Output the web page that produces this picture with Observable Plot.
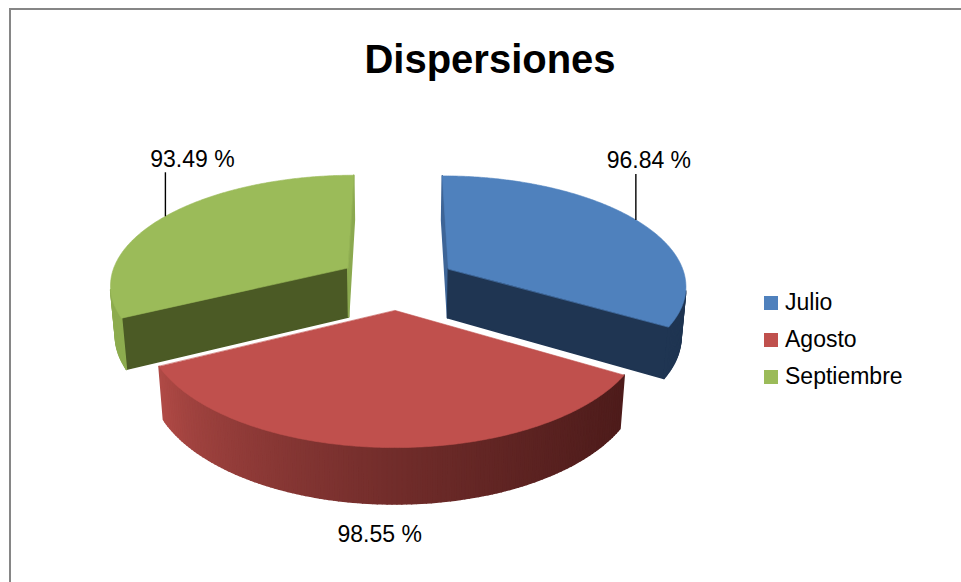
<!DOCTYPE html>
<html>
<head>
<meta charset="utf-8">
<script src="https://cdn.jsdelivr.net/npm/d3@7"></script>
<script src="https://cdn.jsdelivr.net/npm/@observablehq/plot@0.6"></script>
<style>
  html, body { margin: 0; padding: 0; background: #fff; overflow: hidden; }
  #wrap { position: relative; width: 961px; height: 582px; font-family: "Liberation Sans", Arial, sans-serif; color: #000; }
  #frame { position: absolute; left: 9px; top: 8px; width: 1000px; height: 700px; border-left: 2px solid #868686; border-top: 2px solid #868686; }
  #title { position: absolute; left: 0; top: 39px; width: 980px; text-align: center; font-weight: bold; font-size: 40px; line-height: 40px; }
  #chart { position: absolute; left: 0; top: 0; }
  #legend { position: absolute; left: 764px; top: 284px; }
  .item { display: flex; align-items: center; height: 37px; font-size: 23px; white-space: nowrap; }
  .sw { width: 14px; height: 14px; margin-right: 7px; flex: none; }
</style>
</head>
<body>
<div id="wrap">
  <div id="frame"></div>
  <div id="chart"></div>
  <div id="title">Dispersiones</div>
  <div id="legend"></div>
</div>
<script>
// ---------- data ----------
const categories = ["Julio", "Agosto", "Septiembre"];
const values = [96.84, 98.55, 93.49];
const valueLabels = ["96.84 %", "98.55 %", "93.49 %"];
const colors = ["#4F81BD", "#C0504D", "#9BBB59"];

// ---------- styling / view ----------
const W = 961, H = 582;
const VIEW = { cx: 397, cy: 281.7, F: 1525, D: 6.4, sinTilt: 0.459, thick: 0.238, explode: 0.25 };
const SIDE = {
  Julio:      { start: "#3E6597", end: "#1F3552", rim: () => "#1F3552" },
  Agosto:     { start: "#7A2C2A", end: "#7A2C2A", rim: t => d3.interpolateRgb("#4E1C1B", "#B04A46")(Math.pow(t, 1.4)) },
  Septiembre: { start: "#4B5A25", end: "#8BA94F", rim: () => "#8DAC4F" }
};
const LABEL = {
  Julio:      { where: "top", lead: 46, dx: 13, dy: -13 },
  Agosto:     { where: "bottom", lead: 0, dx: -5, dy: 31 },
  Septiembre: { where: "top", lead: 44, dx: 27, dy: -13 }
};

const C = Math.sqrt(1 - VIEW.sinTilt ** 2), S = VIEW.sinTilt;
const cam = [0, VIEW.D * C, VIEW.D * S];
function project([u, v, h]) {
  const depth = VIEW.D - v * C - h * S;
  return [VIEW.F * u / depth, VIEW.F * (v * S - h * C) / depth];
}
const visible = (n, p) => n[0] * (cam[0] - p[0]) + n[1] * (cam[1] - p[1]) + n[2] * (cam[2] - p[2]) > 0;

const arcs = d3.pie().sort(null).value(d => d)(values);
const slices = arcs.map((a, i) => {
  const mid = (a.startAngle + a.endAngle) / 2;
  return { i, name: categories[i], a1: a.startAngle, a2: a.endAngle, mid,
           ou: VIEW.explode * Math.sin(mid), ov: -VIEW.explode * Math.cos(mid) };
});

function toRows(faces, prefix) {
  const rows = [];
  faces.forEach((f, j) => f.pts.forEach(p => {
    const [x, y] = project(p);
    rows.push({ id: prefix + "-" + j, fill: f.fill, x, y });
  }));
  return rows;
}

function slicePolys(s) {
  const T = VIEW.thick;
  const rim = (phi, h) => [s.ou + Math.sin(phi), s.ov - Math.cos(phi), h];
  const apex = h => [s.ou, s.ov, h];
  const st = SIDE[s.name];
  const sides = [];
  const nStart = [-Math.cos(s.a1), -Math.sin(s.a1), 0];
  if (visible(nStart, apex(0))) sides.push({ fill: st.start, pts: [apex(0), rim(s.a1, 0), rim(s.a1, -T), apex(-T)] });
  const nEnd = [Math.cos(s.a2), Math.sin(s.a2), 0];
  if (visible(nEnd, apex(0))) sides.push({ fill: st.end, pts: [apex(0), rim(s.a2, 0), rim(s.a2, -T), apex(-T)] });
  const n = Math.ceil((s.a2 - s.a1) / (Math.PI / 180));
  for (let k = 0; k < n; k++) {
    const p0 = s.a1 + (s.a2 - s.a1) * k / n, p1 = s.a1 + (s.a2 - s.a1) * (k + 1) / n, pm = (p0 + p1) / 2;
    if (!visible([Math.sin(pm), -Math.cos(pm), 0], rim(pm, 0))) continue;
    sides.push({ fill: st.rim((pm - s.a1) / (s.a2 - s.a1)), pts: [rim(p0, 0), rim(p1, 0), rim(p1, -T), rim(p0, -T)] });
  }
  const top = [apex(0)];
  for (let k = 0; k <= n * 2; k++) top.push(rim(s.a1 + (s.a2 - s.a1) * k / (n * 2), 0));
  return { sides: toRows(sides, s.name + "-side"), top: toRows([{ fill: colors[s.i], pts: top }], s.name + "-top") };
}

// back slices first
const drawOrder = slices.slice().sort((a, b) => a.ov - b.ov);
const sliceMarks = drawOrder.flatMap(s => {
  const p = slicePolys(s);
  return [
    Plot.line(p.sides, { x: "x", y: "y", z: "id", fill: "fill", stroke: "fill", strokeWidth: 1.6, curve: "linear-closed" }),
    Plot.line(p.top, { x: "x", y: "y", z: "id", fill: "fill", stroke: "fill", strokeWidth: 0.6, curve: "linear-closed" })
  ];
});

// labels
const labelRows = slices.map(s => {
  const L = LABEL[s.name];
  const h = L.where === "top" ? 0 : -VIEW.thick;
  const [x, y] = project([s.ou + Math.sin(s.mid), s.ov - Math.cos(s.mid), h]);
  return { name: s.name, text: valueLabels[s.i], x, y, y2: y - L.lead, L };
});
const leaderMarks = Plot.link(labelRows.filter(r => r.L.lead > 0), { x1: "x", y1: "y", x2: "x", y2: "y2", stroke: "#000", strokeWidth: 1.4 });
const textMarks = labelRows.map(r =>
  Plot.text([r], { x: "x", y: "y2", text: "text", dx: r.L.dx, dy: r.L.dy, fontSize: 23, fill: "#000" })
);

const plot = Plot.plot({
  width: W, height: H, margin: 0,
  style: { background: "transparent", fontFamily: "Liberation Sans, Arial, sans-serif", overflow: "visible" },
  x: { domain: [-VIEW.cx, W - VIEW.cx], range: [0, W], axis: null },
  y: { domain: [-VIEW.cy, H - VIEW.cy], range: [0, H], axis: null },
  marks: [...sliceMarks, leaderMarks, ...textMarks]
});
document.getElementById("chart").appendChild(plot);

// legend
const legend = document.getElementById("legend");
categories.forEach((c, i) => {
  const item = document.createElement("div");
  item.className = "item";
  const sw = document.createElement("span");
  sw.className = "sw";
  sw.style.background = colors[i];
  const lab = document.createElement("span");
  lab.textContent = c;
  item.appendChild(sw); item.appendChild(lab);
  legend.appendChild(item);
});
</script>
</body>
</html>
